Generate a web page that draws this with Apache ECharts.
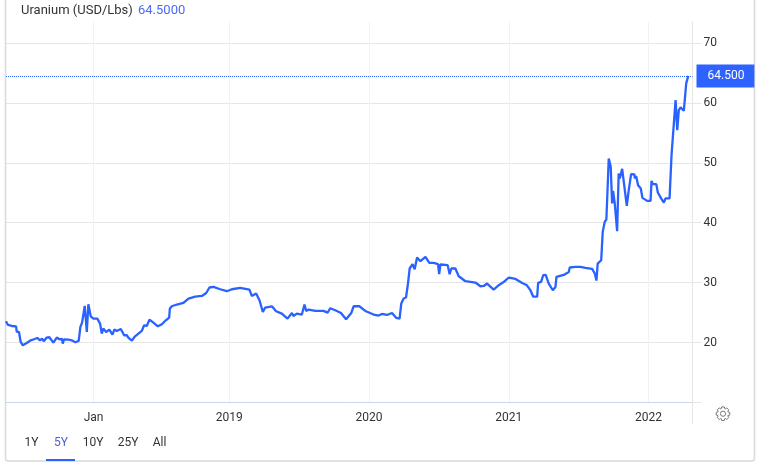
<!DOCTYPE html>
<html>
<head>
<meta charset="utf-8">
<style>
  html, body { margin: 0; padding: 0; background: #fff; }
  #chart { width: 763px; height: 469px; }
</style>
</head>
<body>
<div id="chart"></div>
<script src="https://cdn.jsdelivr.net/npm/echarts@6/dist/echarts.min.js"></script>
<script>
var seriesName = 'Uranium (USD/Lbs)';
var lastPrice = 64.5;
var rangeButtons = ['1Y', '5Y', '10Y', '25Y', 'All'];
var rangeButtonX = [31.5, 61, 93, 128, 159.5];
var xTicks = [2018.03, 2019, 2020, 2021, 2022];
var xTickLabels = ['Jan', '2019', '2020', '2021', '2022'];
var yTicks = [10, 20, 30, 40, 50, 60, 70];
var yLabels = [20, 30, 40, 50, 60, 70];

// dates as decimal years
var years = [
  2017.404, 2017.418, 2017.445, 2017.476, 2017.481, 2017.497, 2017.509, 2017.524, 2017.535, 2017.552,
  2017.581, 2017.609, 2017.617, 2017.628, 2017.647, 2017.662, 2017.674, 2017.695, 2017.714, 2017.743,
  2017.767, 2017.786, 2017.805, 2017.810, 2017.819, 2017.833, 2017.850, 2017.874, 2017.900, 2017.924,
  2017.936, 2017.948, 2017.967, 2017.982, 2017.993, 2018.010, 2018.029, 2018.057, 2018.077, 2018.089,
  2018.100, 2018.120, 2018.143, 2018.165, 2018.179, 2018.196, 2018.225, 2018.249, 2018.268, 2018.279,
  2018.304, 2018.327, 2018.351, 2018.375, 2018.392, 2018.411, 2018.430, 2018.458, 2018.490, 2018.519,
  2018.547, 2018.571, 2018.576, 2018.590, 2018.626, 2018.673, 2018.709, 2018.757, 2018.805, 2018.836,
  2018.859, 2018.888, 2018.936, 2018.984, 2019.019, 2019.079, 2019.145, 2019.162, 2019.193, 2019.217,
  2019.241, 2019.258, 2019.306, 2019.336, 2019.377, 2019.417, 2019.449, 2019.460, 2019.484, 2019.520,
  2019.539, 2019.551, 2019.568, 2019.616, 2019.675, 2019.704, 2019.723, 2019.759, 2019.800, 2019.836,
  2019.874, 2019.890, 2019.931, 2019.974, 2020.033, 2020.069, 2020.093, 2020.129, 2020.165, 2020.196,
  2020.219, 2020.231, 2020.248, 2020.265, 2020.279, 2020.291, 2020.312, 2020.327, 2020.344, 2020.368,
  2020.404, 2020.432, 2020.463, 2020.494, 2020.502, 2020.511, 2020.563, 2020.577, 2020.589, 2020.618,
  2020.642, 2020.690, 2020.761, 2020.797, 2020.821, 2020.845, 2020.892, 2020.928, 2020.971, 2021.000,
  2021.048, 2021.096, 2021.127, 2021.155, 2021.174, 2021.203, 2021.210, 2021.231, 2021.246, 2021.264,
  2021.286, 2021.315, 2021.334, 2021.341, 2021.393, 2021.429, 2021.436, 2021.477, 2021.489, 2021.513,
  2021.548, 2021.596, 2021.615, 2021.627, 2021.636, 2021.661, 2021.672, 2021.686, 2021.698, 2021.715,
  2021.729, 2021.739, 2021.746, 2021.758, 2021.775, 2021.786, 2021.794, 2021.811, 2021.825, 2021.844,
  2021.858, 2021.875, 2021.899, 2021.901, 2021.911, 2021.925, 2021.944, 2021.956, 2021.990, 2022.014,
  2022.021, 2022.030, 2022.055, 2022.066, 2022.078, 2022.093, 2022.109, 2022.121, 2022.150, 2022.164,
  2022.176, 2022.193, 2022.205, 2022.216, 2022.229, 2022.252, 2022.269, 2022.284
];
var prices = [
  23.56, 22.94, 22.77, 22.72, 21.77, 21.77, 20.10, 19.55, 19.22, 19.93,
  20.38, 20.60, 20.27, 20.77, 20.38, 20.67, 20.22, 20.84, 20.89, 20.00,
  20.84, 20.55, 20.60, 19.83, 20.55, 20.33, 20.50, 20.38, 20.05, 20.27,
  22.60, 23.34, 26.11, 21.77, 26.40, 24.39, 24.00, 24.00, 23.17, 21.50,
  22.34, 21.77, 22.17, 21.34, 22.17, 21.94, 22.27, 21.22, 21.22, 20.84,
  20.33, 21.05, 21.50, 21.94, 22.89, 22.77, 23.84, 23.34, 22.72, 23.06,
  23.72, 24.18, 25.68, 26.06, 26.35, 26.61, 27.35, 27.68, 27.78, 28.28,
  29.19, 29.29, 28.90, 28.57, 28.90, 29.12, 28.85, 27.78, 28.18, 27.06,
  25.11, 25.85, 26.06, 25.23, 24.84, 24.00, 24.94, 24.44, 24.84, 24.68,
  26.35, 25.28, 25.51, 25.28, 25.28, 25.01, 25.73, 25.39, 24.94, 23.89,
  24.94, 26.06, 26.06, 25.28, 24.68, 24.51, 24.78, 24.61, 24.94, 24.11,
  24.00, 26.51, 27.35, 27.52, 29.85, 32.36, 33.08, 32.24, 34.20, 33.58,
  34.30, 33.29, 33.29, 33.08, 31.41, 33.03, 32.91, 31.41, 32.36, 32.36,
  31.07, 30.24, 30.02, 29.40, 29.45, 29.85, 28.85, 29.57, 30.24, 30.86,
  30.62, 29.95, 29.62, 28.73, 27.68, 27.68, 29.95, 30.12, 31.24, 31.29,
  29.85, 28.73, 29.29, 30.96, 31.29, 31.79, 32.53, 32.63, 32.36, 32.63,
  32.46, 32.29, 31.52, 30.35, 33.19, 33.74, 38.47, 40.14, 40.54, 50.73,
  49.33, 43.21, 45.32, 43.21, 38.59, 48.22, 47.39, 48.99, 48.89, 42.81,
  45.43, 48.11, 48.06, 47.39, 47.77, 46.27, 45.72, 44.15, 43.65, 43.65,
  46.99, 46.44, 46.44, 45.05, 44.88, 43.93, 43.38, 44.05, 44.05, 51.28,
  51.56, 60.46, 55.45, 58.79, 59.25, 58.68, 63.25, 64.50
];

var blue = '#2962ff';
var fontName = 'Roboto, "Liberation Sans", Arial, sans-serif';

var points = [];
for (var i = 0; i < years.length; i++) {
  points.push([years[i], prices[i]]);
}

// settings icon: toothed outline plus a small circle
function gearOutline(cx, cy) {
  var out = [];
  for (var t = 0; t < 8; t++) {
    var a = t * Math.PI / 4;
    var step = [[-0.34, 5.3], [-0.2, 6.9], [0.2, 6.9], [0.34, 5.3]];
    step.forEach(function (s) {
      out.push([cx + s[1] * Math.cos(a + s[0]), cy + s[1] * Math.sin(a + s[0])]);
    });
  }
  return out;
}

var extras = [
  // card outline, its top is cut off by the window
  { type: 'rect', z: 0, shape: { x: 5.5, y: -10, width: 749, height: 471, r: 3 },
    style: { fill: '#fff', stroke: '#d9d9d9', lineWidth: 1.5 } },
  // value axis line carries on below the plot
  { type: 'line', z: 1, shape: { x1: 692.5, y1: 402, x2: 692.5, y2: 424 },
    style: { stroke: '#e6e6e6', lineWidth: 1 } },
  { type: 'text', z: 5, style: { x: 21, y: 11, text: seriesName, fill: '#333', verticalAlign: 'middle',
    font: '13px ' + fontName } },
  { type: 'text', z: 5, style: { x: 138, y: 11, text: lastPrice.toFixed(4), fill: '#4a6cf7', verticalAlign: 'middle',
    font: '13px ' + fontName } },
  { type: 'polygon', z: 5, shape: { points: gearOutline(723, 413.7) },
    style: { fill: 'none', stroke: '#777', lineWidth: 1 } },
  { type: 'circle', z: 5, shape: { cx: 723, cy: 413.7, r: 2.6 },
    style: { fill: 'none', stroke: '#777', lineWidth: 1 } },
  // selected range underline
  { type: 'rect', z: 5, shape: { x: 46, y: 459, width: 29, height: 2 }, style: { fill: blue } }
];
rangeButtons.forEach(function (b, i) {
  extras.push({ type: 'text', z: 5, style: {
    x: rangeButtonX[i], y: 442.5, text: b, fill: b === '5Y' ? '#4a5fd8' : '#333',
    align: 'center', verticalAlign: 'middle', font: '12px ' + fontName
  } });
});

var chart = echarts.init(document.getElementById('chart'));
chart.setOption({
  animation: false,
  backgroundColor: '#fff',
  grid: { left: 6, right: 70.5, top: 22, bottom: 66.5 },
  xAxis: {
    type: 'value',
    min: 2017.404,
    max: 2022.314,
    axisLine: { show: true, onZero: false, lineStyle: { color: '#ccd6eb', width: 1 } },
    axisTick: { show: false, customValues: xTicks },
    axisLabel: {
      customValues: xTicks,
      margin: 9,
      color: '#333',
      fontSize: 12,
      fontFamily: fontName,
      formatter: function (v) {
        return xTickLabels[xTicks.indexOf(v)];
      }
    },
    splitLine: { show: true, lineStyle: { color: '#f0f2f5', width: 1 } }
  },
  yAxis: {
    type: 'value',
    position: 'right',
    min: 10,
    max: 73.5,
    axisLine: { show: true, lineStyle: { color: '#e6e6e6', width: 1 } },
    axisTick: { show: true, customValues: yTicks, length: 9, lineStyle: { color: '#e6e6e6' } },
    axisLabel: {
      customValues: yLabels,
      margin: 11,
      padding: [2, 0, 0, 0],
      color: '#333',
      fontSize: 12,
      fontFamily: fontName
    },
    splitLine: { show: true, lineStyle: { color: '#e6e6e6', width: 1 } }
  },
  series: [{
    name: seriesName,
    type: 'line',
    data: points,
    showSymbol: false,
    smooth: false,
    lineStyle: { color: blue, width: 2.3 },
    markLine: {
      silent: true,
      symbol: 'none',
      data: [{ yAxis: lastPrice }],
      lineStyle: { color: blue, type: 'dotted', width: 1 },
      label: {
        position: 'end',
        distance: 4,
        formatter: lastPrice.toFixed(3),
        color: '#fff',
        fontSize: 12,
        fontFamily: fontName,
        backgroundColor: '#2f63ff',
        lineHeight: 13,
        padding: [5, 10, 5, 11]
      }
    }
  }],
  graphic: extras
});
</script>
</body>
</html>
